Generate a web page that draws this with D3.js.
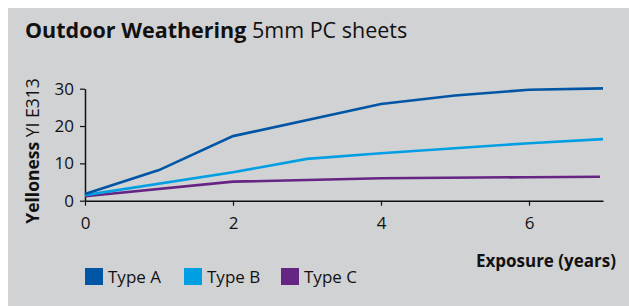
<!DOCTYPE html>
<html>
<head>
<meta charset="utf-8">
<script src="https://cdn.jsdelivr.net/npm/d3@7"></script>
<style>
  body { margin: 0; background: #fff; }
  svg { display: block; }
  text { font-family: "Open Sans", "Noto Sans", sans-serif; fill: #111; }
</style>
</head>
<body>
<div id="chart"></div>
<script>
// ---------- data ----------
var years_A = [0, 1, 2, 4, 5, 6, 7];
var type_A  = [1.8, 8.2, 17.3, 25.9, 28.2, 29.7, 30.1];
var years_B = [0, 2, 3, 4, 6, 7];
var type_B  = [1.5, 7.6, 11.2, 12.7, 15.4, 16.5];
var years_C = [0, 2, 4, 6, 6.96];
var type_C  = [1.2, 5.1, 6.0, 6.3, 6.4];
var series_names = ['Type A', 'Type B', 'Type C'];
var series_colors = ['#0055a4', '#009fe3', '#662483'];
var x_ticks = [0, 2, 4, 6];
var y_ticks = [0, 10, 20, 30];

var width = 629, height = 306;
var margin_left = 85, plot_right = 603, plot_top = 88.7, plot_bottom = 200.7;

var svg = d3.select('#chart').append('svg')
	.attr('width', width)
	.attr('height', height);

// grey panel
svg.append('rect')
	.attr('x', 8).attr('y', 8)
	.attr('width', width - 8).attr('height', height - 8)
	.attr('fill', '#d1d2d4');

// title
var title = svg.append('text')
	.attr('x', 25).attr('y', 38)
	.style('font-size', '21.5px');
title.append('tspan').style('font-weight', 'bold').text('Outdoor Weathering');
title.append('tspan').text(' 5mm PC sheets');

var x = d3.scaleLinear().domain([0, 7]).range([margin_left, plot_right]);
var y = d3.scaleLinear().domain([0, 30]).range([plot_bottom, plot_top]);

// axes
var xAxis = svg.append('g')
	.attr('transform', 'translate(0,' + plot_bottom + ')')
	.call(d3.axisBottom(x).tickValues(x_ticks).tickFormat(d3.format('d'))
		.tickSize(5).tickPadding(11).tickSizeOuter(0));
var yAxis = svg.append('g')
	.attr('transform', 'translate(' + margin_left + ',0)')
	.call(d3.axisLeft(y).tickValues(y_ticks).tickFormat(d3.format('d'))
		.tickSize(5).tickPadding(6).tickSizeOuter(0));

[xAxis, yAxis].forEach(function (g) {
	g.select('.domain').attr('stroke', '#111').attr('stroke-width', 1.5);
	g.selectAll('.tick line').attr('stroke', '#111').attr('stroke-width', 1.2);
	g.selectAll('.tick text')
		.style('font-size', '17px')
		.style('font-family', '"Open Sans", "Noto Sans", sans-serif')
		.attr('fill', '#111');
});

// lines
var all_series = [
	{years: years_A, vals: type_A},
	{years: years_B, vals: type_B},
	{years: years_C, vals: type_C}
];
var line = d3.line()
	.x(function (d) { return x(d[0]); })
	.y(function (d) { return y(d[1]); });

// draw C first so A sits on top
for (var i = all_series.length - 1; i >= 0; i--) {
	var s = all_series[i];
	svg.append('path')
		.datum(d3.zip(s.years, s.vals))
		.attr('d', line)
		.attr('fill', 'none')
		.attr('stroke', series_colors[i])
		.attr('stroke-width', 2.6);
}

// y label
var ylab = svg.append('text')
	.attr('transform', 'translate(39,' + 151 + ') rotate(-90)')
	.attr('text-anchor', 'middle')
	.style('font-size', '17.5px');
ylab.append('tspan').style('font-weight', 'bold').text('Yelloness');
ylab.append('tspan').text(' YI E313');

// x label
svg.append('text')
	.attr('x', 616).attr('y', 267)
	.attr('text-anchor', 'end')
	.style('font-size', '17px')
	.style('font-weight', 'bold')
	.text('Exposure (years)');

// legend
var legend_x = [85, 184, 281];
var legend = svg.selectAll('.legend').data(series_names).enter().append('g')
	.attr('class', 'legend')
	.attr('transform', function (d, i) { return 'translate(' + legend_x[i] + ',268)'; });
legend.append('rect')
	.attr('width', 18).attr('height', 17)
	.attr('fill', function (d, i) { return series_colors[i]; });
legend.append('text')
	.attr('x', 23).attr('y', 15)
	.style('font-size', '17px')
	.text(function (d) { return d; });
</script>
</body>
</html>
